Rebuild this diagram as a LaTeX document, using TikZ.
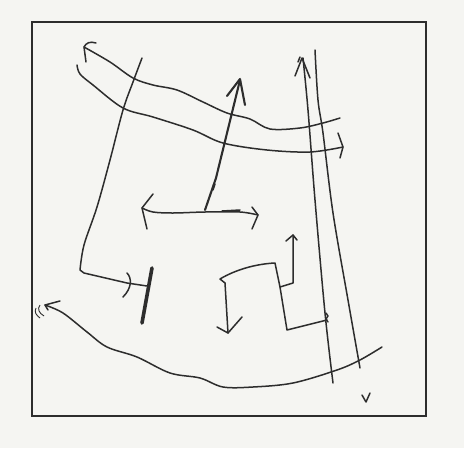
\documentclass[tikz,border=0pt]{standalone}
\begin{document}
\begin{tikzpicture}[x=1pt,y=-1pt,
  ink/.style={draw=inkc,line width=1.5pt,line cap=round,line join=round},
  inkb/.style={ink,line width=2.1pt},
  sm/.style={smooth,tension=0.55}]
\definecolor{bgc}{RGB}{245,245,242}
\definecolor{inkc}{RGB}{45,45,45}
\fill[bgc] (0,0) rectangle (464,448);
\useasboundingbox (0,0) rectangle (464,448);
% frame
\draw[draw=inkc,line width=2.2pt] (32,22) rectangle (426,416);
% upper wavy line with arrow at left
\draw[ink] plot[sm] coordinates {(84,47) (110,62) (133,78) (153,85) (177,90) (203,102) (227,113) (250,119) (270,129) (300,128) (323,123) (340,118)};
\draw[ink] (96,43) .. controls (90,41) and (86,43) .. (84,47) -- (86,62);
% lower wavy line with arrow at right
\draw[ink] plot[sm] coordinates {(77,65) (80,74) (93,85) (123,108) (153,117) (193,130) (223,143) (267,150) (310,152) (343,147)};
\draw[ink] (338,133) -- (343,147) -- (340,158);
% left long line turning right to a bar
\draw[ink] plot[sm] coordinates {(142,58) (133,82) (123,110) (110,160) (97,207) (84,245) (80,270)} -- (84,273) -- (127,283) -- (147,286);
\draw[ink] (127,273) .. controls (132,278) and (132,288) .. (123,297);
\draw[draw=inkc,line width=3.6pt,line cap=round] (152,268) -- (142,323);
% central vertical arrow
\draw[inkb] (205,210) -- (216,178) -- (240,80);
\draw[inkb] (227,96) -- (240,79) -- (245,105);
\draw[ink] (213,190) -- (215,184);
% horizontal double arrow
\draw[ink] plot[sm] coordinates {(142,208) (153,212) (173,213) (205,212) (240,212) (258,215)};
\draw[ink] (153,194) -- (142,208) -- (147,229);
\draw[ink] (252,207) -- (258,215) -- (252,229);
\draw[ink] (222,211) -- (240,210);
% S-shaped route
\draw[ink] (228,333) -- (225,283) -- (220,279) .. controls (235,270) and (255,264) .. (275,263) -- (280,287) -- (287,330) -- (327,320);
\draw[ink] (217,327) -- (228,333) -- (242,317);
\draw[ink] (280,287) -- (293,283) -- (293,235);
\draw[ink] (286,241) -- (293,235) -- (297,240);
\draw[ink] (326,313) -- (328,316) -- (326,319) -- (328,322);
% right long lines
\draw[ink] plot[sm] coordinates {(303,58) (308,110) (315,200) (325,313) (333,383)};
\draw[ink] (295,76) -- (302,58) -- (310,78);
\draw[ink] (298,62) -- (300,57);
\draw[ink] plot[sm] coordinates {(315,50) (318,100) (323,133) (333,213) (348,300) (360,368)};
% bottom big curve
\draw[ink] plot[sm] coordinates {(45,305) (63,313) (87,332) (107,347) (137,357) (170,373) (200,378) (223,387) (253,387) (293,383) (337,370) (360,360) (382,347)};
\draw[ink] (60,301) -- (45,305) -- (48,310);
\draw[draw=inkc,line width=0.9pt] (40,305) .. controls (37,309) and (39,313) .. (44,316);
\draw[draw=inkc,line width=0.9pt] (36,308) .. controls (34,312) and (36,315) .. (40,318);
% check mark
\draw[ink] (362,395) -- (366,402) -- (370,393);
\end{tikzpicture}
\end{document}
